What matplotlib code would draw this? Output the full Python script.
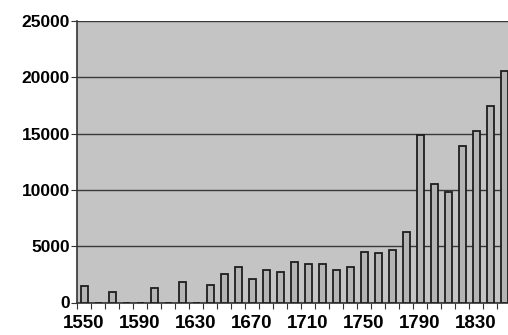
import numpy as np
import matplotlib.pyplot as plt

plt.rcParams['font.family'] = ['Liberation Sans', 'DejaVu Sans']

years = list(range(1550, 1860, 10))
values = [1500, 0, 900, 0, 0, 1270, 0, 1800, 0, 1560,
          2520, 3110, 2130, 2900, 2700, 3640, 3380, 3460, 2930, 3170,
          4450, 4360, 4690, 6290, 14860, 10550, 9800, 13910, 15250, 17480,
          20520]
yticks = [0, 5000, 10000, 15000, 20000, 25000]

fig = plt.figure(figsize=(5.08, 3.35), dpi=100)
# plot area runs slightly past the right edge, like the cropped original
ax = fig.add_axes([77 / 508, (335 - 302.5) / 335, 434 / 508, (302.5 - 21) / 335])
ax.set_facecolor('#c4c4c4')

x = np.arange(len(years))
ax.bar(x, values, width=0.5, color='#b4b4b4', edgecolor='#1e1e1e', linewidth=1.3, zorder=3)

ax.set_xlim(-0.5, len(years) - 0.5)
ax.set_ylim(0, 25000)
ax.set_yticks(yticks)
ax.set_yticklabels([str(v) for v in yticks], fontsize=12.5, fontweight='bold')
ax.yaxis.grid(True, color='#3a3a3a', linewidth=1.0, zorder=1)

# ticks between categories, labels every 4th category
ax.set_xticks(np.arange(len(years) + 1) - 0.5)
ax.set_xticklabels([])
ax.set_xticks(x[::4], minor=True)
ax.set_xticklabels([str(y) for y in years[::4]], minor=True, fontsize=13.5, fontweight='bold')
ax.tick_params(axis='x', which='minor', length=0, pad=9)
ax.tick_params(axis='x', which='major', length=4, color='#333333')
ax.tick_params(axis='y', length=4, color='#333333', pad=1)

for s in ['top', 'right']:
    ax.spines[s].set_visible(False)
for s in ['left', 'bottom']:
    ax.spines[s].set_color('#333333')
    ax.spines[s].set_linewidth(1.2)

fig.savefig('out.png', dpi=100)
